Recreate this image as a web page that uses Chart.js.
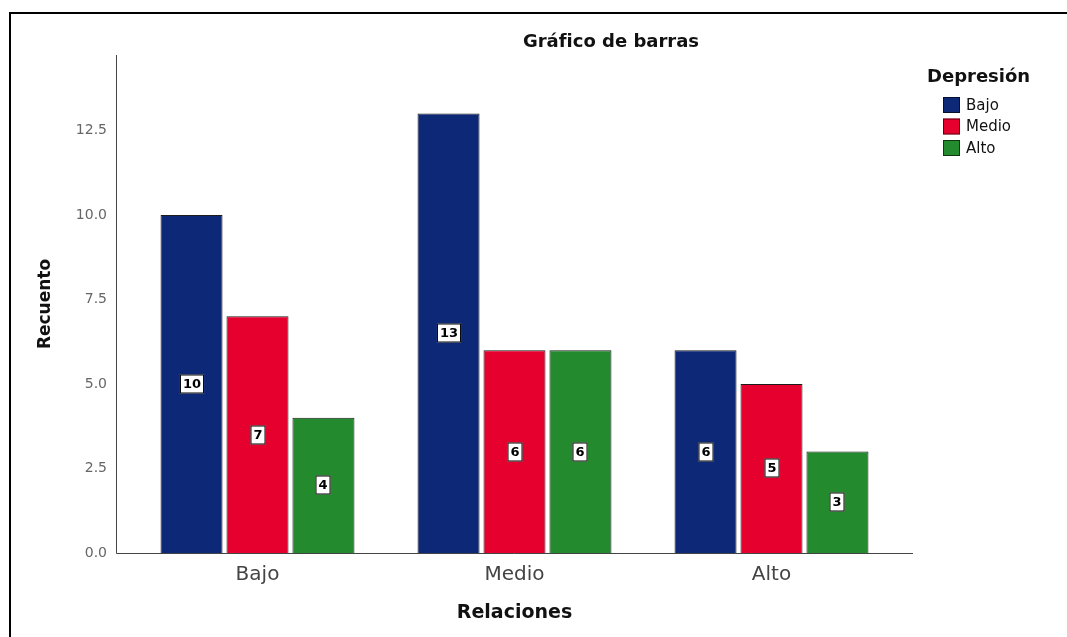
<!DOCTYPE html>
<html lang="es">
<head>
    <meta charset="UTF-8">
    <title>Gráfico de barras</title>
    <script src="https://cdn.jsdelivr.net/npm/chart.js"></script>
    <style>
        body {
            margin: 0;
            background-color: #ffffff;
        }
        #wrap {
            position: relative;
            width: 1067px;
            height: 637px;
        }
    </style>
</head>
<body>
    <div id="wrap">
        <canvas id="barChart"></canvas>
    </div>

    <script>
        // Data
        const categories = ['Bajo', 'Medio', 'Alto'];          // Relaciones
        const seriesNames = ['Bajo', 'Medio', 'Alto'];         // Depresión
        const bajoValues = [10, 13, 6];
        const medioValues = [7, 6, 5];
        const altoValues = [4, 6, 3];
        const yTicks = [0, 2.5, 5, 7.5, 10, 12.5];

        const seriesColors = ['#0e2878', '#e6002d', '#238a2d'];
        const FONT = "'DejaVu Sans', sans-serif";

        // frame, axis lines, title, value boxes and legend
        const decorations = {
            id: 'decorations',
            beforeDraw(chart) {
                const ctx = chart.ctx;
                ctx.save();
                ctx.fillStyle = '#000';
                ctx.fillRect(9, 12, 1067, 2);
                ctx.fillRect(9, 12, 2, 637);
                ctx.restore();
            },
            afterDatasetsDraw(chart) {
                const ctx = chart.ctx;
                const area = chart.chartArea;
                ctx.save();

                // axis lines (a little wider than the category band)
                ctx.strokeStyle = '#444';
                ctx.lineWidth = 1;
                ctx.beginPath();
                ctx.moveTo(116.5, area.top);
                ctx.lineTo(116.5, area.bottom + 0.5);
                ctx.lineTo(913, area.bottom + 0.5);
                ctx.stroke();

                // value boxes in the middle of every bar
                ctx.font = 'bold 13px ' + FONT;
                ctx.textAlign = 'center';
                ctx.textBaseline = 'middle';
                chart.data.datasets.forEach((ds, i) => {
                    chart.getDatasetMeta(i).data.forEach((bar, j) => {
                        const txt = String(ds.data[j]);
                        const w = ctx.measureText(txt).width + 6;
                        const h = 19;
                        const cx = Math.round(bar.x);
                        const cy = Math.round((bar.y + bar.base) / 2);
                        ctx.fillStyle = '#fff';
                        ctx.fillRect(cx - w / 2, cy - h / 2, w, h);
                        ctx.strokeStyle = '#000';
                        ctx.strokeRect(cx - w / 2 + 0.5, cy - h / 2 + 0.5, w - 1, h - 1);
                        ctx.fillStyle = '#000';
                        ctx.fillText(txt, cx, cy + 1);
                    });
                });

                // chart title
                ctx.font = 'bold 18px ' + FONT;
                ctx.fillStyle = '#111';
                ctx.fillText('Gráfico de barras', 611, 42);

                // legend
                ctx.textAlign = 'left';
                ctx.fillText('Depresión', 927, 77);
                ctx.font = '15px ' + FONT;
                chart.data.datasets.forEach((ds, i) => {
                    const y = 105 + i * 21.5;
                    ctx.fillStyle = ds.backgroundColor;
                    ctx.fillRect(943, y - 8, 17, 16);
                    ctx.strokeStyle = 'rgba(0,0,0,0.6)';
                    ctx.strokeRect(943.5, y - 7.5, 16, 15);
                    ctx.fillStyle = '#111';
                    ctx.fillText(ds.label, 966, y + 1);
                });
                ctx.restore();
            }
        };

        const ctx = document.getElementById('barChart').getContext('2d');

        const barChart = new Chart(ctx, {
            type: 'bar',
            data: {
                labels: categories,
                datasets: [
                    { label: seriesNames[0], data: bajoValues, backgroundColor: seriesColors[0] },
                    { label: seriesNames[1], data: medioValues, backgroundColor: seriesColors[1] },
                    { label: seriesNames[2], data: altoValues, backgroundColor: seriesColors[2] }
                ].map(ds => Object.assign(ds, {
                    borderColor: '#1c1c1c',
                    borderWidth: 1,
                    categoryPercentage: 0.77,
                    barPercentage: 0.94
                }))
            },
            options: {
                responsive: true,
                maintainAspectRatio: false,
                animation: false,
                layout: {
                    padding: { top: 55, right: 167, bottom: 0, left: 0 }
                },
                plugins: {
                    legend: { display: false },
                    title: { display: false },
                    tooltip: { enabled: false }
                },
                scales: {
                    x: {
                        grid: { display: false, drawTicks: false },
                        border: { display: false },
                        ticks: {
                            color: '#444',
                            padding: 10,
                            font: { family: FONT, size: 20 }
                        },
                        title: {
                            display: true,
                            text: 'Relaciones',
                            color: '#111',
                            font: { family: FONT, size: 19, weight: 'bold' },
                            padding: { top: 0, bottom: 13 }
                        },
                        afterFit(scale) { scale.height = 84; }
                    },
                    y: {
                        min: 0,
                        max: 14.73,
                        grid: { display: false, drawTicks: false },
                        border: { display: false },
                        ticks: {
                            stepSize: 2.5,
                            color: '#666',
                            padding: 22,
                            font: { family: FONT, size: 14 },
                            callback: v => v.toFixed(1)
                        },
                        afterBuildTicks(scale) {
                            scale.ticks = yTicks.map(v => ({ value: v }));
                        },
                        title: {
                            display: true,
                            text: 'Recuento',
                            color: '#111',
                            font: { family: FONT, size: 17, weight: 'bold' },
                            padding: { top: 35, bottom: 0 }
                        },
                        afterFit(scale) { scale.width = 129; }
                    }
                }
            },
            plugins: [decorations]
        });
    </script>
</body>
</html>
